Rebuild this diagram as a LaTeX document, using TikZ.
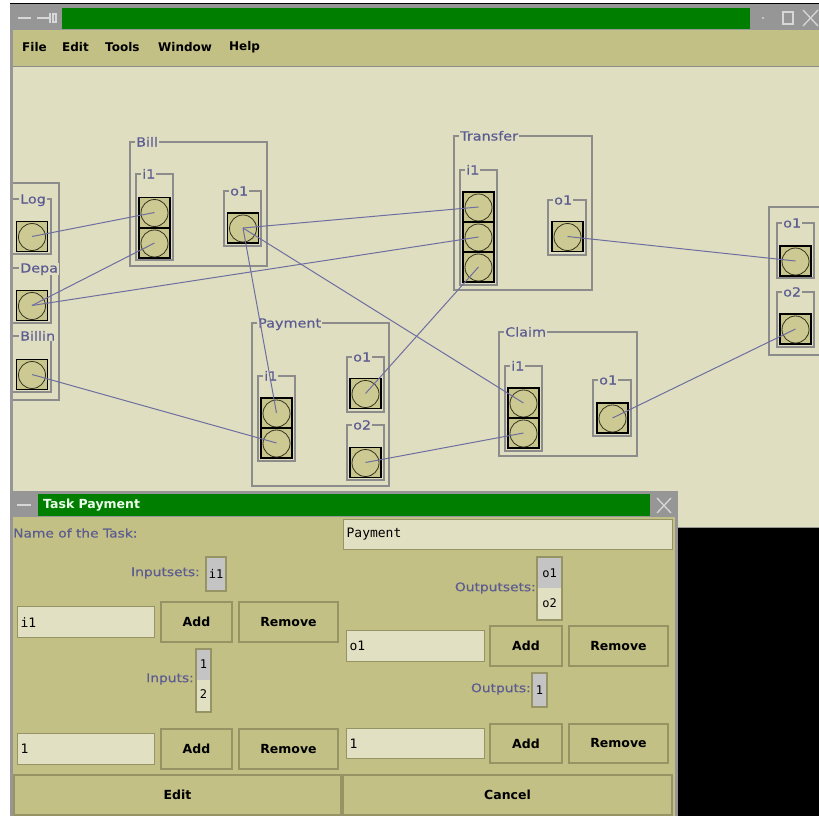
\documentclass[tikz,border=0pt]{standalone}
\usepackage{fontspec}
\setmainfont{DejaVu Sans}
\setmonofont{DejaVu Sans Mono}
\newfontfamily\uifont[FakeStretch=1.15,FakeBold=0.5]{DejaVu Sans}
\definecolor{canvasc}{RGB}{223,222,193}
\definecolor{olivec}{RGB}{194,192,132}
\definecolor{framegray}{RGB}{150,150,150}
\definecolor{titlegreen}{RGB}{0,126,0}
\definecolor{labblue}{RGB}{92,92,146}
\definecolor{lineblue}{RGB}{110,110,160}
\definecolor{boxgray}{RGB}{140,140,140}
\definecolor{portfill}{RGB}{200,197,140}
\definecolor{ringfill}{RGB}{204,201,146}
\definecolor{fieldc}{RGB}{226,224,194}
\definecolor{btnedge}{RGB}{150,148,100}
\definecolor{selgray}{RGB}{196,196,196}
\definecolor{glyphc}{RGB}{215,215,215}
\newcommand\mygrp[6]{\draw[grp] (#1,#2) rectangle (#3,#4);
  \node[glab] (#6) at (#1+5,#2+4.5) {#5};}
\newcommand\myport[3]{\node[port] (#1) at (#2,#3) {};
  \draw[ring] (#2,#3+0.5) circle (13.5);}
\begin{document}
\begin{tikzpicture}[x=1pt,y=-1pt,
  grp/.style={draw=boxgray,line width=1.1pt},
  glab/.style={font=\uifont\fontsize{12.5}{14}\selectfont,text=labblue,fill=canvasc,inner xsep=1pt,inner ysep=0pt,anchor=base west},
  port/.style={draw=black,fill=portfill,line width=1.4pt,minimum width=31pt,minimum height=30pt,inner sep=0pt},
  ring/.style={draw=black!75!olivec,fill=ringfill,line width=0.8pt},
  conn/.style={draw=lineblue,line width=1pt},
  menu/.style={font=\bfseries\fontsize{12}{14}\selectfont,text=black,anchor=west,inner sep=0pt},
  dlab/.style={font=\uifont\fontsize{12}{14}\selectfont,text=labblue,inner sep=0pt},
  btn/.style={draw=btnedge,fill=olivec,line width=1.4pt,inner sep=0pt,font=\bfseries\fontsize{12.5}{14}\selectfont,text=black},
  field/.style={draw=btnedge,fill=fieldc,line width=1.2pt,anchor=north west,inner xsep=3pt,inner ysep=0pt,align=left,font=\ttfamily\fontsize{13}{15}\selectfont,text=black},
  lst/.style={draw=btnedge,fill=fieldc,line width=1.2pt},
  item/.style={font=\ttfamily\fontsize{12}{14}\selectfont,text=black,inner sep=0pt},
  glyph/.style={draw=glyphc,line width=1.3pt}
]
\useasboundingbox (0,0) rectangle (819,816);
\fill[white] (0,0) rectangle (819,816);
% ===== main window =====
\fill[framegray] (10,3) rectangle (819,528);
\draw[black,line width=1.2pt] (10,3.5) -- (819,3.5);
\fill[titlegreen] (62,8) rectangle (750,29);
\draw[glyph] (18,18) -- (31,18);
\draw[glyph] (37,18) -- (50,18);
\draw[glyph] (50,13) -- (50,23);
\draw[glyph] (53,14) rectangle (56,22);
\fill[glyphc] (763,18) circle (1.2);
\draw[glyph] (783,12) rectangle (793,24);
\draw[glyph] (803,10) -- (818,26);
\draw[glyph] (803,26) -- (818,10);
\fill[olivec] (13,30) rectangle (819,66);
\draw[boxgray,line width=1pt] (13,66.5) -- (819,66.5);
\fill[canvasc] (13,67) rectangle (819,527);
\node[menu] (mFile) at (22,47) {File};
\node[menu] (mEdit) at (62,47) {Edit};
\node[menu] (mTools) at (105,47) {Tools};
\node[menu] (mWindow) at (158,47) {Window};
\node[menu] (mHelp) at (229,47) {Help};
% ----- left (clipped) group -----
\draw[grp] (13,183) -- (59,183) -- (59,400) -- (13,400);
\draw[grp] (13,199) -- (51,199) -- (51,254) -- (13,254);
\draw[grp] (13,268) -- (51,268) -- (51,323) -- (13,323);
\draw[grp] (13,336) -- (51,336) -- (51,392) -- (13,392);
\node[glab] (lLog) at (19,203.5) {Log};
\node[glab] (lDepa) at (19,272.5) {Depa};
\node[glab] (lBillin) at (19,340.5) {Billin};
% ----- Bill -----
\mygrp{130}{142}{267}{266}{Bill}{lBill}
\mygrp{136}{174}{173}{260}{i1}{lBillI}
\mygrp{224}{191}{261}{246}{o1}{lBillO}
% ----- Transfer -----
\mygrp{454}{136}{592}{290}{Transfer}{lTr}
\mygrp{460}{170}{497}{285}{i1}{lTrI}
\mygrp{548}{200}{586}{255}{o1}{lTrO}
% ----- right (clipped) group -----
\draw[grp] (822,207) -- (769,207) -- (769,355) -- (822,355);
\mygrp{777}{223}{814}{278}{o1}{lRo1}
\mygrp{777}{292}{814}{347}{o2}{lRo2}
% ----- Payment -----
\mygrp{252}{323}{389}{486}{Payment}{lPay}
\mygrp{258}{376}{295}{461}{i1}{lPayI}
\mygrp{347}{357}{384}{412}{o1}{lPayO1}
\mygrp{347}{425}{384}{480}{o2}{lPayO2}
% ----- Claim -----
\mygrp{499}{332}{637}{456}{Claim}{lCl}
\mygrp{505}{366}{542}{451}{i1}{lClI}
\mygrp{593}{380}{631}{436}{o1}{lClO}
% ----- ports -----
\myport{pLog}{32}{236.5}
\myport{pDepa}{32}{305.5}
\myport{pBillin}{32}{374.5}
\myport{billA}{154.5}{212.5}
\myport{billB}{154.5}{243}
\myport{billO}{243}{228}
\myport{trA}{478.5}{207}
\myport{trB}{478.5}{237}
\myport{trC}{478.5}{267}
\myport{trO}{567.5}{236.5}
\myport{rO1}{795.5}{261}
\myport{rO2}{795.5}{329}
\myport{payA}{276.5}{413}
\myport{payB}{276.5}{443}
\myport{payO1}{365.5}{393.5}
\myport{payO2}{365.5}{462.5}
\myport{clA}{523.5}{403}
\myport{clB}{523.5}{433}
\myport{clO}{612.5}{418}
% ----- connectors -----
\draw[conn] (pLog.center) -- (billA.center);
\draw[conn] (pDepa.center) -- (billB.center);
\draw[conn] (pDepa.center) -- (trB.center);
\draw[conn] (billO.center) -- (trA.center);
\draw[conn] (billO.center) -- (payA.center);
\draw[conn] (billO.center) -- (clA.center);
\draw[conn] (pBillin.center) -- (payB.center);
\draw[conn] (trC.center) -- (payO1.center);
\draw[conn] (trO.center) -- (rO1.center);
\draw[conn] (payO2.center) -- (clB.center);
\draw[conn] (clO.center) -- (rO2.center);
% ===== black desktop =====
\fill[black] (678,528) rectangle (819,816);
% ===== dialog =====
\fill[framegray] (10,491) rectangle (678,816);
\fill[titlegreen] (38,494) rectangle (650,516);
\draw[glyph] (17,505) -- (31,505);
\draw[glyph] (657,498) -- (671,513);
\draw[glyph] (657,513) -- (671,498);
\node[font=\bfseries\fontsize{12.5}{14}\selectfont,text=white!92!green,anchor=west,inner sep=0pt] (dTitle) at (43,505) {Task Payment};
\fill[olivec] (13,517) rectangle (675,816);
\node[dlab,anchor=west] (dName) at (13,533) {Name of the Task:};
\node[field,minimum height=30pt,text width=323pt] (fName) at (343,519) {Payment};
% inputs column
\node[dlab,anchor=east] (dInSets) at (200,573) {Inputsets:};
\draw[lst] (206,557) rectangle (226,591);
\fill[selgray] (207,558) rectangle (225,590);
\node[item] (iInSet) at (216,574) {i1};
\node[field,minimum height=31pt,text width=131pt] (fI1) at (17,606) {i1};
\node[btn,minimum width=71pt,minimum height=40pt] (bAddA) at (196.5,622) {Add};
\node[btn,minimum width=99pt,minimum height=40pt] (bRemA) at (288.5,622) {Remove};
\node[dlab,anchor=east] (dIns) at (194,679) {Inputs:};
\draw[lst] (196,649) rectangle (211,712);
\fill[selgray] (197,650) rectangle (210,680);
\node[item] (iIn1) at (203.5,664) {1};
\node[item] (iIn2) at (203.5,694) {2};
\node[field,minimum height=31pt,text width=131pt] (fIn) at (17,733) {1};
\node[btn,minimum width=71pt,minimum height=40pt] (bAddB) at (196.5,749) {Add};
\node[btn,minimum width=99pt,minimum height=40pt] (bRemB) at (288.5,749) {Remove};
% outputs column
\node[dlab,anchor=east] (dOutSets) at (536,588) {Outputsets:};
\draw[lst] (537,557) rectangle (562,620);
\fill[selgray] (538,558) rectangle (561,588);
\node[item] (iOS1) at (549.5,573) {o1};
\node[item] (iOS2) at (549.5,603) {o2};
\node[field,minimum height=31pt,text width=132pt] (fO1) at (346,630) {o1};
\node[btn,minimum width=72pt,minimum height=40pt] (bAddC) at (526,646) {Add};
\node[btn,minimum width=99pt,minimum height=40pt] (bRemC) at (618.5,646) {Remove};
\node[dlab,anchor=east] (dOuts) at (531,689) {Outputs:};
\draw[lst] (532,673) rectangle (547,707);
\fill[selgray] (533,674) rectangle (546,706);
\node[item] (iOut1) at (539.5,690) {1};
\node[field,minimum height=30pt,text width=132pt] (fOut) at (346,728) {1};
\node[btn,minimum width=72pt,minimum height=39pt] (bAddD) at (526,743.5) {Add};
\node[btn,minimum width=99pt,minimum height=39pt] (bRemD) at (618.5,743.5) {Remove};
% bottom buttons
\node[btn,minimum width=327pt,minimum height=40pt] (bEdit) at (177.5,795) {Edit};
\node[btn,minimum width=329pt,minimum height=40pt] (bCancel) at (507.5,795) {Cancel};
\end{tikzpicture}
\end{document}
